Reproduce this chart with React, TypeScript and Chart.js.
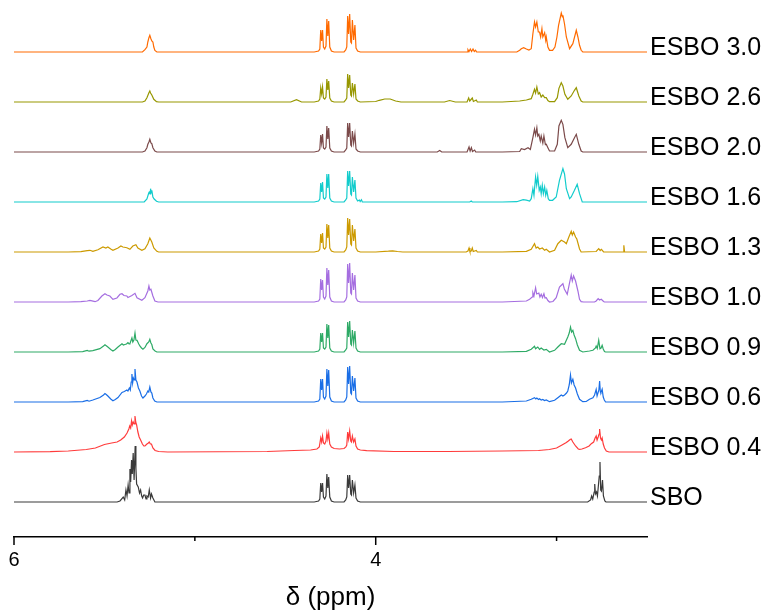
import React, { useEffect, useRef } from "react";
import { Chart, registerables } from "chart.js";

Chart.register(...registerables);

// Sample names, bottom trace first
const SAMPLE_LABELS = [
  "SBO",
  "ESBO 0.4",
  "ESBO 0.6",
  "ESBO 0.9",
  "ESBO 1.0",
  "ESBO 1.3",
  "ESBO 1.6",
  "ESBO 2.0",
  "ESBO 2.6",
  "ESBO 3.0",
];

const SAMPLE_COLORS = [
  "#3a3a3a",
  "#ff3b3b",
  "#1a6ee6",
  "#2eaa66",
  "#a56ee0",
  "#cc9a00",
  "#12cccc",
  "#7b4a4a",
  "#979700",
  "#ff6a00",
];

// Chemical shift axis (ppm), drawn high to low
const X_TICKS = [6, 5, 4, 3];
const X_TICK_LABELS = ["6", "", "4", ""];
const PPM_MIN = 2.5;
const PPM_MAX = 6;

// Vertical stacking step between spectra (intensity units)
const STACK_STEP = 50;

// 1H NMR spectra as flat [ppm, intensity, ppm, intensity, ...] lists
const SBO = [
  6.0, 0, 5.43, 0, 5.414, 1, 5.396, 5, 5.388, 2, 5.381, 12, 5.375, 6, 5.369, 17, 5.364, 9,
  5.359, 33, 5.355, 20, 5.35, 42, 5.346, 28, 5.341, 49, 5.336, 22, 5.33, 56, 5.326, 34,
  5.322, 18, 5.313, 15, 5.306, 9, 5.3, 12, 5.294, 6, 5.289, 4, 5.283, 7, 5.276, 7, 5.27, 3,
  5.265, 6, 5.258, 5, 5.252, 12, 5.245, 4, 5.24, 8, 5.232, 4, 5.221, 0,
  4.34, 0, 4.316, 1, 4.309, 3, 4.304, 19, 4.299, 10, 4.294, 19, 4.289, 5, 4.282, 3, 4.275, 6,
  4.27, 28, 4.265, 14, 4.26, 25, 4.254, 5, 4.245, 1, 4.23, 0, 4.175, 0, 4.166, 2, 4.16, 5,
  4.155, 27, 4.15, 14, 4.144, 27, 4.138, 8, 4.134, 7, 4.129, 22, 4.122, 9, 4.115, 17, 4.109, 4,
  4.1, 1, 4.085, 0,
  2.828, 0, 2.812, 2, 2.806, 6, 2.8, 3, 2.792, 10, 2.789, 18, 2.785, 8, 2.779, 10, 2.774, 6,
  2.768, 18, 2.764, 26, 2.76, 40, 2.756, 12, 2.752, 11, 2.746, 22, 2.741, 6, 2.733, 1,
  2.727, 0, 2.5, 0,
];

const ESBO_04 = [
  6.0, 0, 5.8, 0.3, 5.7, 1, 5.6, 2.5, 5.55, 4, 5.5, 7.5, 5.46, 9, 5.43, 10, 5.41, 12, 5.39, 15,
  5.375, 19, 5.365, 23, 5.36, 26, 5.355, 24, 5.35, 31, 5.346, 27, 5.341, 30, 5.336, 28,
  5.331, 36, 5.327, 30, 5.322, 27, 5.315, 20, 5.308, 15, 5.3, 12, 5.29, 8, 5.282, 6, 5.276, 6,
  5.265, 8, 5.257, 9, 5.252, 10, 5.246, 8, 5.24, 8, 5.232, 4, 5.22, 1.5, 5.2, 0.5, 5.15, 0,
  4.6, 0.5, 4.45, 1.5,
  4.36, 2, 4.325, 3, 4.312, 5, 4.304, 14, 4.299, 10, 4.294, 16, 4.289, 9, 4.282, 8, 4.275, 11,
  4.27, 19, 4.265, 13, 4.26, 19, 4.254, 8, 4.245, 5, 4.23, 3.5, 4.2, 3, 4.175, 3.5, 4.165, 5,
  4.16, 7, 4.155, 20, 4.15, 13, 4.144, 21, 4.138, 11, 4.134, 10, 4.129, 16, 4.122, 10,
  4.115, 13, 4.109, 6, 4.1, 3, 4.085, 2, 4.05, 1.3,
  3.9, 0.5, 3.6, 0.5, 3.3, 1, 3.1, 1.5, 3.04, 2.5, 3.0, 4, 2.97, 7, 2.946, 9.5, 2.935, 11,
  2.925, 12.5, 2.919, 13, 2.91, 10, 2.895, 6, 2.88, 3, 2.873, 2.7, 2.86, 3, 2.84, 4.3, 2.82, 6,
  2.808, 8.3, 2.795, 10, 2.787, 14, 2.781, 16, 2.776, 12, 2.77, 15, 2.765, 18, 2.762, 23,
  2.757, 14, 2.752, 12, 2.748, 14, 2.742, 8, 2.735, 4, 2.725, 1, 2.71, 0, 2.5, 0,
];

const ESBO_06 = [
  6.0, 0, 5.7, 0, 5.62, 0.3, 5.595, 1.5, 5.585, 0.8, 5.564, 2, 5.525, 4.5, 5.505, 7, 5.497, 8.5,
  5.49, 7.5, 5.481, 6, 5.465, 3, 5.453, 1.2, 5.44, 2.5, 5.425, 4.5, 5.403, 9.5, 5.39, 10.5,
  5.376, 12, 5.37, 11, 5.362, 14, 5.357, 12, 5.352, 20, 5.348, 28, 5.344, 19, 5.34, 24,
  5.335, 22, 5.331, 33, 5.326, 22, 5.32, 20, 5.312, 14, 5.304, 11, 5.295, 6, 5.287, 4,
  5.276, 6, 5.268, 8, 5.26, 11, 5.255, 10, 5.249, 15, 5.243, 10, 5.238, 9, 5.232, 4,
  5.222, 1, 5.21, 0,
  4.34, 0, 4.316, 1, 4.309, 3, 4.304, 23, 4.299, 12, 4.294, 23, 4.289, 5, 4.282, 3, 4.275, 6,
  4.27, 33, 4.265, 16, 4.26, 32, 4.254, 5, 4.245, 1, 4.23, 0, 4.175, 0, 4.166, 2, 4.16, 5,
  4.155, 35, 4.15, 18, 4.144, 36, 4.138, 9, 4.134, 8, 4.129, 26, 4.122, 11, 4.115, 24,
  4.109, 4, 4.1, 1, 4.085, 0,
  3.3, 0, 3.167, 1, 3.14, 2.7, 3.122, 4.3, 3.115, 3, 3.109, 4, 3.1, 2.5, 3.094, 3.3, 3.085, 2,
  3.076, 2.5, 3.067, 1.5, 3.057, 2, 3.039, 0.3, 3.011, 1.7, 2.993, 4.3, 2.974, 7, 2.965, 6,
  2.956, 7, 2.945, 9, 2.938, 11, 2.93, 17, 2.923, 27, 2.918, 19, 2.915, 19, 2.91, 22.7,
  2.903, 17, 2.895, 14, 2.885, 8, 2.873, 2.7, 2.855, 0.3, 2.836, 0.5, 2.818, 2.7, 2.799, 4.3,
  2.79, 7, 2.781, 12.7, 2.776, 6, 2.773, 6, 2.766, 12, 2.762, 21, 2.758, 10, 2.755, 9.3,
  2.748, 12.7, 2.742, 5, 2.736, 2, 2.729, 0, 2.5, 0,
];

const ESBO_09 = [
  6.0, 0, 5.7, 0, 5.62, 0.3, 5.595, 1.5, 5.585, 0.8, 5.564, 1.3, 5.525, 3.3, 5.505, 6,
  5.497, 7.3, 5.488, 6, 5.481, 5, 5.465, 2.5, 5.453, 1, 5.44, 2.5, 5.425, 5, 5.403, 8.3,
  5.395, 7, 5.387, 7.5, 5.378, 8, 5.37, 9.3, 5.364, 8, 5.359, 8.5, 5.348, 14, 5.343, 10,
  5.337, 12, 5.331, 19, 5.326, 12, 5.32, 11.7, 5.31, 8, 5.304, 6, 5.295, 4, 5.287, 2.7,
  5.276, 4.5, 5.265, 8.3, 5.255, 10, 5.249, 12.7, 5.243, 9, 5.238, 7.5, 5.232, 3, 5.22, 1,
  5.21, 0,
  4.34, 0, 4.316, 1, 4.309, 3, 4.304, 19, 4.299, 10, 4.294, 19, 4.289, 4, 4.282, 3, 4.275, 5,
  4.27, 28, 4.265, 14, 4.26, 27, 4.254, 4, 4.245, 1, 4.23, 0, 4.175, 0, 4.166, 2, 4.16, 4,
  4.155, 30, 4.15, 15, 4.144, 31, 4.138, 8, 4.134, 7, 4.129, 22, 4.122, 9, 4.115, 21,
  4.109, 4, 4.1, 1, 4.085, 0,
  3.3, 0, 3.167, 0.7, 3.14, 2.7, 3.122, 5.7, 3.116, 3.3, 3.104, 5, 3.094, 2.7, 3.085, 4,
  3.07, 2, 3.057, 2.7, 3.039, 0, 3.011, 1.7, 2.993, 5, 2.974, 8.3, 2.956, 7.7, 2.938, 15,
  2.93, 19, 2.923, 25, 2.917, 20, 2.91, 21.7, 2.903, 17, 2.895, 13.3, 2.885, 7, 2.873, 1.7,
  2.855, 0, 2.818, 1, 2.799, 1.7, 2.785, 4, 2.781, 6, 2.775, 3.5, 2.767, 11.7, 2.76, 3.3,
  2.754, 4, 2.748, 6.7, 2.742, 3, 2.735, 0.5, 2.729, 0, 2.5, 0,
];

const ESBO_10 = [
  6.0, 0, 5.7, 0, 5.63, 0.3, 5.595, 1, 5.58, 1.7, 5.552, 0.3, 5.536, 1.5, 5.514, 6, 5.497, 8.3,
  5.486, 7, 5.47, 6, 5.453, 2.7, 5.431, 4, 5.414, 7.7, 5.403, 8.3, 5.392, 6.5, 5.376, 6,
  5.37, 4.5, 5.348, 6.5, 5.331, 8.7, 5.32, 4.3, 5.293, 1.7, 5.276, 4.3, 5.26, 11, 5.254, 16,
  5.249, 12, 5.243, 12.7, 5.232, 6, 5.221, 1, 5.204, 0,
  4.34, 0, 4.316, 1, 4.309, 3, 4.304, 23, 4.299, 12, 4.294, 22, 4.289, 5, 4.282, 3, 4.275, 6,
  4.27, 34, 4.265, 17, 4.26, 32, 4.254, 5, 4.245, 1, 4.23, 0, 4.175, 0, 4.166, 2, 4.16, 5,
  4.155, 38, 4.15, 19, 4.144, 39, 4.138, 9, 4.134, 8, 4.129, 29, 4.122, 12, 4.115, 27,
  4.109, 4, 4.1, 1, 4.085, 0,
  3.3, 0, 3.167, 1, 3.149, 2.7, 3.135, 5, 3.131, 9.3, 3.125, 6, 3.116, 14.3, 3.11, 8,
  3.098, 9, 3.092, 5, 3.085, 7.7, 3.078, 4.5, 3.07, 8.3, 3.064, 4, 3.057, 4.3, 3.048, 1.5,
  3.039, 0, 3.02, 0.5, 3.002, 4.3, 2.984, 15, 2.965, 18.3, 2.957, 13, 2.941, 7.7, 2.928, 19.3,
  2.919, 27, 2.913, 21, 2.906, 26, 2.895, 21, 2.882, 11, 2.873, 2.7, 2.864, 0.3, 2.85, 0,
  2.79, 0, 2.781, 1, 2.77, 3.3, 2.762, 2, 2.753, 2.7, 2.74, 0.5, 2.735, 0, 2.5, 0,
];

const ESBO_13 = [
  6.0, 0, 5.7, 0, 5.63, 0.3, 5.595, 1.3, 5.58, 1.7, 5.564, 0.6, 5.536, 2.3, 5.508, 5,
  5.492, 4, 5.481, 5, 5.465, 3, 5.453, 1.7, 5.425, 4, 5.409, 6, 5.398, 5, 5.376, 4.3,
  5.359, 2.7, 5.343, 6, 5.326, 7.3, 5.315, 4, 5.293, 1.7, 5.276, 3.3, 5.26, 8.3, 5.249, 14,
  5.238, 10, 5.227, 4, 5.21, 0.7, 5.2, 0,
  4.34, 0, 4.316, 1, 4.309, 3, 4.304, 18, 4.299, 9, 4.294, 19, 4.289, 4, 4.282, 3, 4.275, 5,
  4.27, 28, 4.265, 14, 4.26, 27, 4.254, 4, 4.245, 1, 4.23, 0, 4.175, 0, 4.166, 2, 4.16, 5,
  4.155, 34, 4.15, 17, 4.144, 33, 4.138, 8, 4.134, 7, 4.129, 27, 4.122, 11, 4.115, 23,
  4.109, 4, 4.1, 1, 4.085, 0,
  4.0, 0, 3.93, 0.8, 3.906, 1.2, 3.88, 0.5, 3.85, 0, 3.5, 0, 3.49, 1, 3.484, 4, 3.479, 0.5,
  3.472, 1, 3.466, 4, 3.461, 0.5, 3.444, 1.5, 3.438, 0,
  3.3, 0, 3.167, 0.7, 3.14, 2.7, 3.122, 8.3, 3.113, 4, 3.104, 5, 3.094, 3, 3.079, 4, 3.066, 1.7,
  3.057, 2.7, 3.039, 0, 3.011, 1.7, 2.993, 8.3, 2.974, 11.7, 2.956, 10, 2.946, 8.3, 2.932, 15,
  2.919, 20.7, 2.913, 17, 2.906, 20, 2.895, 15, 2.888, 13, 2.873, 3, 2.864, 0, 2.781, 0.5,
  2.767, 3.3, 2.759, 1.5, 2.752, 2.7, 2.74, 0, 2.632, 0, 2.628, 6.7, 2.624, 0, 2.5, 0,
];

const ESBO_16 = [
  6.0, 0, 5.28, 0, 5.265, 3, 5.255, 9, 5.252, 10, 5.248, 8, 5.245, 13.3, 5.241, 9, 5.238, 11.7,
  5.232, 5, 5.225, 3, 5.212, 0.7, 5.2, 0,
  4.34, 0, 4.316, 1, 4.309, 3, 4.304, 19, 4.299, 10, 4.294, 20, 4.289, 4, 4.282, 3, 4.275, 5,
  4.27, 28, 4.265, 14, 4.26, 28, 4.254, 4, 4.245, 1, 4.23, 0, 4.175, 0, 4.166, 2, 4.16, 4,
  4.155, 31, 4.15, 16, 4.144, 31, 4.138, 8, 4.134, 7, 4.129, 25, 4.122, 10, 4.115, 22,
  4.109, 4, 4.1, 1, 4.09, 2, 4.086, 0.5, 4.079, 2.3, 4.074, 0,
  3.48, 0, 3.472, 1, 3.466, 0,
  3.3, 0, 3.22, 0.3, 3.185, 2.3, 3.167, 1.8, 3.149, 1, 3.14, 3.3, 3.131, 13.3, 3.125, 6.7,
  3.116, 25, 3.11, 16.7, 3.104, 25.7, 3.096, 11.7, 3.09, 15, 3.085, 8.3, 3.079, 16.7,
  3.073, 8.3, 3.066, 15, 3.06, 6.7, 3.054, 11.7, 3.046, 3.3, 3.039, 1.7, 3.022, 1.7, 3.002, 5,
  2.984, 21.7, 2.965, 33.3, 2.956, 28, 2.946, 13.3, 2.928, 3.3, 2.919, 5, 2.901, 11.7,
  2.886, 17.7, 2.873, 8.3, 2.858, 0, 2.5, 0,
];

const ESBO_20 = [
  6.0, 0, 5.29, 0, 5.276, 1, 5.265, 4.3, 5.26, 7.7, 5.254, 10, 5.249, 12.7, 5.243, 9, 5.238, 8.3,
  5.232, 4.3, 5.221, 1, 5.21, 0,
  4.34, 0, 4.316, 1, 4.309, 3, 4.304, 17, 4.299, 9, 4.294, 18, 4.289, 4, 4.282, 3, 4.275, 5,
  4.27, 26, 4.265, 13, 4.26, 24, 4.254, 4, 4.245, 1, 4.23, 0, 4.175, 0, 4.166, 2, 4.16, 4,
  4.155, 29, 4.15, 15, 4.144, 29, 4.138, 7, 4.134, 6, 4.129, 21, 4.122, 9, 4.115, 18,
  4.109, 3, 4.1, 1, 4.085, 0,
  3.66, 0, 3.646, 1.5, 3.635, 0, 3.495, 0, 3.484, 5, 3.478, 1, 3.471, 4.3, 3.465, 0.5,
  3.453, 2, 3.447, 0,
  3.3, 0, 3.204, 0.5, 3.195, 3.3, 3.177, 2.5, 3.158, 4.3, 3.145, 2.5, 3.131, 14.3, 3.122, 22.7,
  3.116, 17, 3.109, 24.3, 3.104, 16, 3.098, 17.7, 3.09, 11, 3.085, 16, 3.076, 9, 3.07, 16,
  3.062, 7.5, 3.057, 7.7, 3.048, 4.3, 3.039, 1, 3.011, 1, 2.996, 7.7, 2.987, 26, 2.974, 31.7,
  2.965, 27.7, 2.954, 14.3, 2.938, 4.3, 2.919, 7.7, 2.901, 14.3, 2.891, 17.7, 2.877, 7.7,
  2.864, 1, 2.855, 0, 2.5, 0,
];

const ESBO_26 = [
  6.0, 0, 5.29, 0, 5.276, 1, 5.265, 4.3, 5.254, 9.3, 5.249, 11, 5.245, 9, 5.238, 7, 5.227, 2.7,
  5.212, 0.3, 5.2, 0,
  4.47, 0, 4.438, 2.3, 4.41, 0,
  4.34, 0, 4.316, 1, 4.309, 3, 4.304, 14, 4.299, 8, 4.294, 15, 4.289, 4, 4.282, 3, 4.275, 5,
  4.27, 23, 4.265, 12, 4.26, 21, 4.254, 4, 4.245, 1, 4.23, 0, 4.175, 0, 4.166, 2, 4.16, 4,
  4.155, 28, 4.15, 14, 4.144, 27, 4.138, 7, 4.134, 6, 4.129, 19, 4.122, 8, 4.115, 18,
  4.109, 3, 4.1, 1, 4.085, 0,
  4.0, 0.5, 3.98, 1.7, 3.95, 3, 3.92, 3, 3.89, 1, 3.86, 0, 3.62, 0, 3.591, 1.5, 3.56, 0,
  3.495, 0, 3.486, 4, 3.48, 1, 3.466, 4, 3.46, 0.5, 3.444, 2, 3.438, 0,
  3.3, 0, 3.204, 1, 3.167, 2, 3.14, 3.3, 3.131, 7.7, 3.122, 12.7, 3.116, 9, 3.109, 15,
  3.101, 8, 3.094, 9.3, 3.085, 5, 3.076, 7, 3.066, 4.3, 3.057, 4.3, 3.048, 1.5, 3.039, 0.3,
  3.011, 0.3, 2.996, 4.3, 2.987, 13.7, 2.974, 19.3, 2.965, 16, 2.954, 7.7, 2.938, 2.7,
  2.919, 6, 2.901, 11.7, 2.891, 14.3, 2.877, 6, 2.864, 1, 2.855, 0, 2.5, 0,
];

const ESBO_30 = [
  6.0, 0, 5.29, 0, 5.276, 2.3, 5.265, 5, 5.26, 10, 5.254, 14.3, 5.249, 16.7, 5.243, 13.3,
  5.238, 11, 5.232, 10, 5.227, 5, 5.221, 1.5, 5.21, 0,
  4.34, 0, 4.316, 1, 4.309, 3, 4.304, 22, 4.299, 11, 4.294, 22, 4.289, 5, 4.282, 3, 4.275, 6,
  4.27, 33, 4.265, 16, 4.26, 31, 4.254, 5, 4.245, 1, 4.23, 0, 4.175, 0, 4.166, 2, 4.16, 5,
  4.155, 36, 4.15, 18, 4.144, 38, 4.138, 10, 4.134, 9, 4.129, 32, 4.122, 12, 4.115, 27,
  4.109, 4, 4.1, 1, 4.085, 0,
  3.495, 0, 3.49, 2.3, 3.484, 0.5, 3.477, 3, 3.47, 0.5, 3.462, 3, 3.455, 0.5, 3.448, 1.7,
  3.442, 0,
  3.3, 0, 3.22, 0, 3.204, 1.7, 3.195, 3.3, 3.182, 4.3, 3.167, 3, 3.153, 2, 3.14, 3.3,
  3.131, 18.3, 3.122, 30, 3.116, 25, 3.109, 30, 3.101, 20, 3.094, 20, 3.088, 15, 3.081, 23.3,
  3.076, 15, 3.066, 19.3, 3.06, 11.7, 3.057, 15, 3.048, 5, 3.039, 1.7, 3.022, 1.7, 3.009, 5,
  2.998, 15, 2.989, 26.7, 2.974, 39, 2.968, 35, 2.965, 36.7, 2.956, 28, 2.946, 15, 2.928, 3.3,
  2.91, 8.3, 2.891, 21.7, 2.882, 15, 2.873, 6.7, 2.864, 1.7, 2.855, 0, 2.5, 0,
];

const SPECTRA = [
  SBO,
  ESBO_04,
  ESBO_06,
  ESBO_09,
  ESBO_10,
  ESBO_13,
  ESBO_16,
  ESBO_20,
  ESBO_26,
  ESBO_30,
];

const FONT_FAMILY = '"Liberation Sans", Arial, Helvetica, sans-serif';

// Turn a flat [ppm, intensity] list into points lifted onto its stack level
function toPoints(flat: number[], lift: number) {
  const pts: { x: number; y: number }[] = [];
  for (let i = 0; i < flat.length; i += 2) {
    pts.push({ x: flat[i], y: flat[i + 1] + lift });
  }
  return pts;
}

// Draws the outward tick marks and the sample name beside each trace
const stackDecorations = {
  id: "stackDecorations",
  afterDraw(chart: any) {
    const { ctx, chartArea, scales } = chart;
    const xs = scales.x;
    const ys = scales.y;
    ctx.save();
    ctx.strokeStyle = "#000";
    ctx.lineWidth = 1.5;
    X_TICKS.forEach((v, i) => {
      const px = xs.getPixelForValue(v);
      const len = X_TICK_LABELS[i] ? 8 : 4;
      ctx.beginPath();
      ctx.moveTo(px, chartArea.bottom);
      ctx.lineTo(px, chartArea.bottom + len);
      ctx.stroke();
    });
    ctx.fillStyle = "#000";
    ctx.font = `25px ${FONT_FAMILY}`;
    ctx.textAlign = "left";
    ctx.textBaseline = "middle";
    SAMPLE_LABELS.forEach((name, i) => {
      const py = ys.getPixelForValue(i * STACK_STEP);
      ctx.fillText(name, chartArea.right + 3, py - 4);
    });
    ctx.restore();
  },
};

export default function App() {
  const canvasRef = useRef<HTMLCanvasElement | null>(null);

  useEffect(() => {
    const canvas = canvasRef.current;
    if (!canvas) return;

    const datasets = SPECTRA.map((flat, i) => ({
      label: SAMPLE_LABELS[i],
      data: toPoints(flat, i * STACK_STEP),
      borderColor: SAMPLE_COLORS[i],
      backgroundColor: SAMPLE_COLORS[i],
      borderWidth: 1.2,
      pointRadius: 0,
      tension: 0,
      fill: false,
    }));

    const chart = new Chart(canvas, {
      type: "line",
      data: { datasets },
      options: {
        animation: false,
        responsive: false,
        maintainAspectRatio: false,
        events: [],
        layout: { padding: { left: 14, right: 119, top: 0, bottom: 0 } },
        plugins: {
          legend: { display: false },
          tooltip: { enabled: false },
        },
        scales: {
          x: {
            type: "linear",
            reverse: true,
            min: PPM_MIN,
            max: PPM_MAX,
            afterBuildTicks: (scale: any) => {
              scale.ticks = X_TICKS.map((value) => ({ value }));
            },
            afterFit: (scale: any) => {
              scale.height = 76;
            },
            grid: { display: false },
            border: { display: true, color: "#000", width: 1.5 },
            ticks: {
              autoSkip: false,
              maxRotation: 0,
              padding: 3,
              color: "#000",
              font: { size: 20, family: FONT_FAMILY },
              callback: (value: any) => {
                const idx = X_TICKS.indexOf(Number(value));
                return idx >= 0 ? X_TICK_LABELS[idx] : "";
              },
            },
            title: {
              display: true,
              text: "δ (ppm)",
              color: "#000",
              font: { size: 26, family: FONT_FAMILY },
              padding: { top: 0, bottom: 0 },
            },
          },
          y: {
            type: "linear",
            display: false,
            min: -35,
            max: 502,
          },
        },
      },
      plugins: [stackDecorations],
    });

    return () => chart.destroy();
  }, []);

  return (
    <div style={{ position: "absolute", left: 0, top: 0, width: 766, height: 613, background: "#fff" }}>
      <canvas ref={canvasRef} width={766} height={613} style={{ width: 766, height: 613 }} />
    </div>
  );
}
